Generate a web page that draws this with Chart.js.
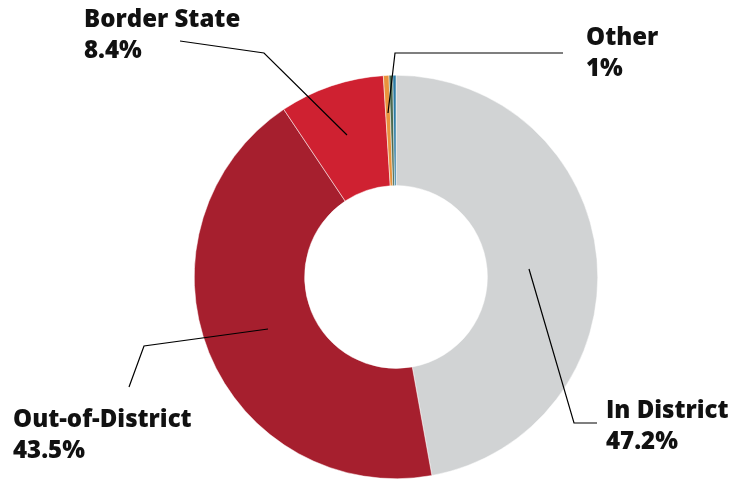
<!DOCTYPE html>
<html>
<head>
<meta charset="utf-8">
<script src="https://cdn.jsdelivr.net/npm/chart.js@4"></script>
<style>
  html, body { margin: 0; padding: 0; background: #fff; }
  #wrap { width: 738px; height: 479px; position: relative; }
</style>
</head>
<body>
<div id="wrap"><canvas id="residencyChart"></canvas></div>
<script>
// Slice values (percent)
const categories = ['In District', 'Out-of-District', 'Border State', 'Other A', 'Other B', 'Other C'];
const shares = [47.2, 43.5, 8.4, 0.45, 0.3, 0.25];
const sliceColors = ['#D1D3D4', '#A61F2E', '#CF2131', '#E9923D', '#4C6A4F', '#2C7BA4'];

// Callout labels: name, value text, leader-line path, text anchor
const labelNames = ['In District', 'Out-of-District', 'Border State', 'Other'];
const labelValues = ['47.2%', '43.5%', '8.4%', '1%'];

const callouts = [
    { name: labelNames[0], value: labelValues[0], x: 606, y: 418,
      path: [[529, 269], [574, 423], [597, 423]] },
    { name: labelNames[1], value: labelValues[1], x: 13, y: 427,
      path: [[268, 329], [144, 346], [129, 387]] },
    { name: labelNames[2], value: labelValues[2], x: 84, y: 27,
      path: [[347, 135], [264, 53], [180, 41]] },
    { name: labelNames[3], value: labelValues[3], x: 586, y: 45,
      path: [[388, 113], [395, 53], [563, 53]] }
];

// Draws leader lines and the bold two-line labels
const calloutPlugin = {
    id: 'callouts',
    afterDraw(chart) {
        const ctx = chart.ctx;
        ctx.save();
        ctx.strokeStyle = '#000';
        ctx.lineWidth = 1.2;
        callouts.forEach(c => {
            ctx.beginPath();
            c.path.forEach((p, i) => i ? ctx.lineTo(p[0], p[1]) : ctx.moveTo(p[0], p[1]));
            ctx.stroke();
        });
        ctx.fillStyle = '#111';
        ctx.font = '800 24px "Open Sans", sans-serif';
        ctx.textBaseline = 'alphabetic';
        ctx.textAlign = 'left';
        callouts.forEach(c => {
            ctx.fillText(c.name, c.x, c.y);
            ctx.fillText(c.value, c.x, c.y + 31);
        });
        ctx.restore();
    }
};

new Chart(document.getElementById('residencyChart'), {
    type: 'doughnut',
    data: {
        labels: categories,
        datasets: [{
            data: shares,
            backgroundColor: sliceColors,
            borderColor: '#ffffff',
            borderWidth: 0.5
        }]
    },
    options: {
        responsive: true,
        maintainAspectRatio: false,
        animation: false,
        cutout: '45.3%',
        layout: { padding: { top: 75, bottom: 0, left: 194, right: 140 } },
        plugins: {
            legend: { display: false },
            tooltip: { enabled: false }
        }
    },
    plugins: [calloutPlugin]
});
</script>
</body>
</html>
